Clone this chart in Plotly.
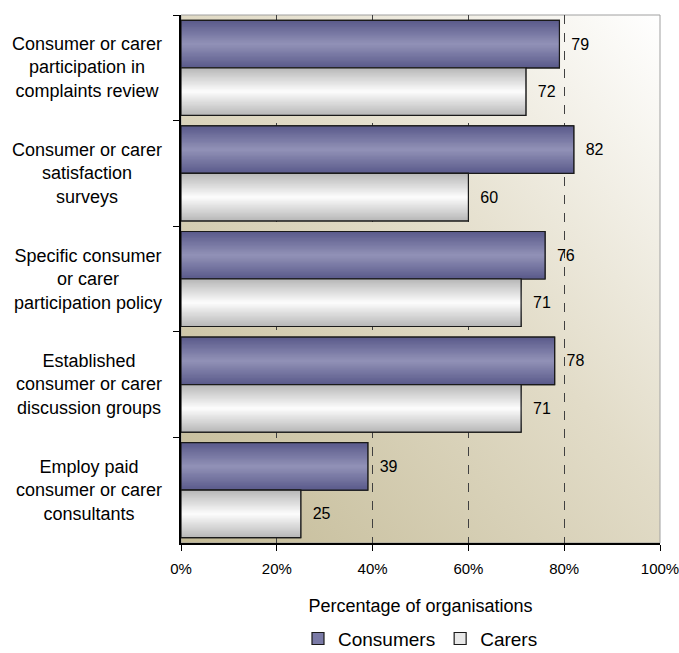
import base64
import plotly.graph_objects as go

# Survey categories, listed top to bottom
categories = [
    "Consumer or carer<br>participation in<br>complaints review",
    "Consumer or carer<br>satisfaction<br>surveys",
    "Specific consumer<br>or carer<br>participation policy",
    "Established<br>consumer or carer<br>discussion groups",
    "Employ paid<br>consumer or carer<br>consultants",
]
consumers = [79, 82, 76, 78, 39]
carers = [72, 60, 71, 71, 25]
x_ticks = [0, 20, 40, 60, 80, 100]
x_tick_labels = ["0%", "20%", "40%", "60%", "80%", "100%"]

FONT = "Liberation Sans, Arial, sans-serif"
BAR_W = 0.45          # thickness of each bar in category units
SHADE_STEPS = 18      # bands used for the cylinder-like shading


def mix(c1, c2, t):
    a = [int(c1[i:i + 2], 16) for i in (1, 3, 5)]
    b = [int(c2[i:i + 2], 16) for i in (1, 3, 5)]
    return "#" + "".join(f"{round(x + (y - x) * t):02x}" for x, y in zip(a, b))


# Diagonal tan-to-white wash behind the plot area
svg = (
    '<svg xmlns="http://www.w3.org/2000/svg" width="100" height="100" preserveAspectRatio="none">'
    '<defs><linearGradient id="g" x1="0" y1="1" x2="1" y2="0">'
    '<stop offset="0" stop-color="#c3ba96"/>'
    '<stop offset="0.55" stop-color="#e2dcc8"/>'
    '<stop offset="1" stop-color="#ffffff"/>'
    '</linearGradient></defs>'
    '<rect width="100" height="100" fill="url(#g)"/></svg>'
)
bg_uri = "data:image/svg+xml;base64," + base64.b64encode(svg.encode()).decode()

series = [
    ("Consumers", consumers, -BAR_W, "#5b5b8b", "#9090b6", "#7a7aa6"),
    ("Carers", carers, 0.0, "#b8b8b8", "#fbfbfb", "#e8e8e8"),
]

fig = go.Figure()
legend_idx = []
for name, vals, off, edge, centre, legend_col in series:
    legend_idx.append(len(fig.data))
    # base bar: carries the legend entry and the value labels
    fig.add_trace(go.Bar(
        name=name, y=categories, x=vals, orientation="h",
        offset=off, width=BAR_W,
        marker=dict(color=legend_col, line=dict(color="#1a1a1a", width=1.2)),
        text=[f"  {v}" for v in vals], textposition="outside",
        textfont=dict(family=FONT, size=16, color="#000000"), cliponaxis=False,
        legendgroup=name,
    ))
    # progressively thinner, lighter bands give the shaded look
    for k in range(SHADE_STEPS):
        w = BAR_W * (1 - k / SHADE_STEPS)
        fig.add_trace(go.Bar(
            y=categories, x=vals, orientation="h",
            offset=off + (BAR_W - w) / 2, width=w,
            marker=dict(color=mix(edge, centre, k / (SHADE_STEPS - 1)), line=dict(width=0)),
            showlegend=False, hoverinfo="skip", legendgroup=name,
        ))
    # outline drawn on top
    fig.add_trace(go.Bar(
        y=categories, x=vals, orientation="h", offset=off, width=BAR_W,
        marker=dict(color="rgba(0,0,0,0)", line=dict(color="#1a1a1a", width=1.2)),
        showlegend=False, hoverinfo="skip", legendgroup=name,
    ))

# Category labels centred line-by-line to the left of the axis
for c in categories:
    fig.add_annotation(
        text=c, xref="paper", yref="y", x=-0.035, y=c,
        xanchor="right", yanchor="middle", align="center", showarrow=False,
        font=dict(family=FONT, size=18, color="#000000"),
    )

fig.add_layout_image(
    source=bg_uri, xref="paper", yref="paper", x=0, y=1, sizex=1, sizey=1,
    xanchor="left", yanchor="top", sizing="stretch", layer="below",
)
fig.add_shape(
    type="rect", xref="paper", yref="paper", x0=0, y0=0, x1=1, y1=1,
    line=dict(color="#a0a0a0", width=1), layer="below",
)

fig.update_layout(
    width=679, height=653,
    margin=dict(l=181, r=19, t=15, b=110, autoexpand=False),
    paper_bgcolor="#ffffff", plot_bgcolor="rgba(0,0,0,0)",
    barmode="overlay",
    font=dict(family=FONT, color="#000000"),
    showlegend=True,
    legend=dict(
        orientation="h", x=0.5, xanchor="center",
        yref="container", y=0.022, yanchor="middle",
        font=dict(family=FONT, size=19, color="#000000"),
        itemwidth=30, traceorder="normal",
    ),
    xaxis=dict(
        range=[0, 100], tickvals=x_ticks, ticktext=x_tick_labels,
        tickfont=dict(family=FONT, size=15), ticks="outside", ticklen=6,
        tickcolor="#000000", showline=True, linecolor="#000000", linewidth=1.5,
        showgrid=True, gridcolor="#404040", griddash="dash", gridwidth=1,
        zeroline=False, automargin=False, ticklabeloverflow="allow",
        ticklabelstandoff=5,
        title=dict(text="Percentage of organisations",
                   font=dict(family=FONT, size=18), standoff=24),
    ),
    yaxis=dict(
        type="category", autorange="reversed", showticklabels=False,
        ticks="outside", ticklen=6, tickcolor="#000000", tickson="boundaries",
        showline=True, linecolor="#000000", linewidth=1.5, showgrid=False,
    ),
)

fig.write_html("out.html")
